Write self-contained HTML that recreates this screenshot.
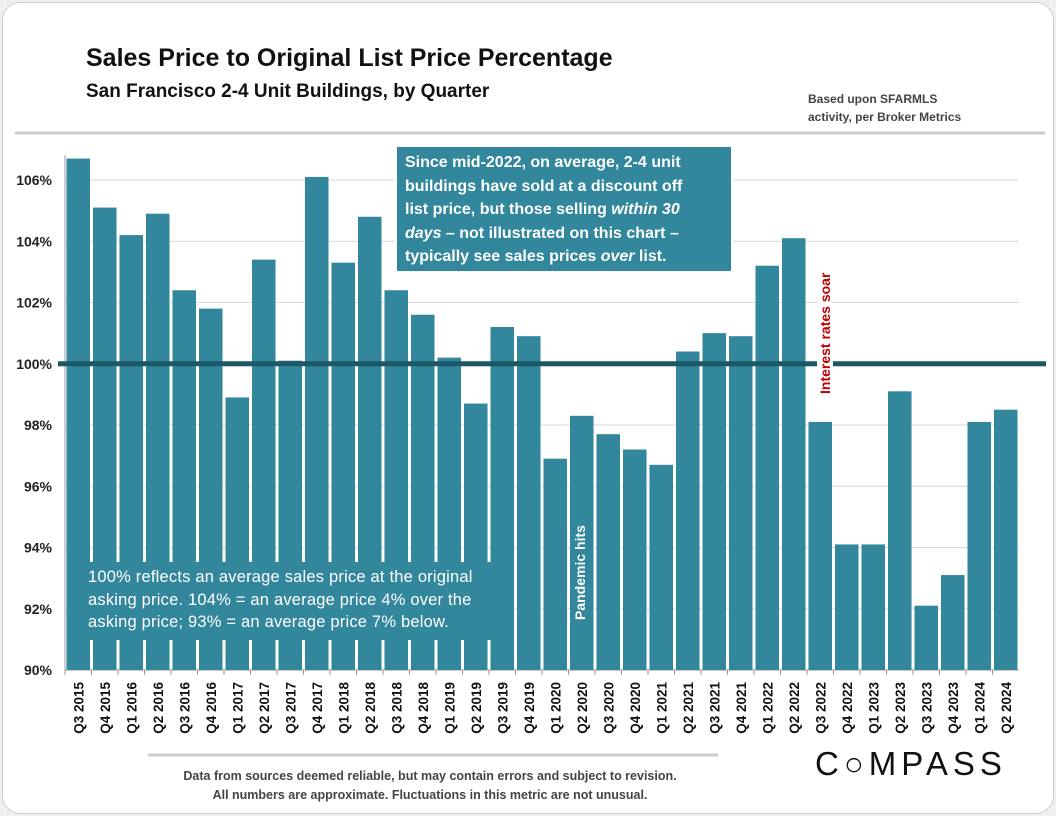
<!DOCTYPE html>
<html><head><meta charset="utf-8"><style>
body{margin:0;background:#f0f0f0;font-family:"Liberation Sans",sans-serif;}
#card{position:absolute;left:2px;top:2px;width:1050px;height:810px;background:#fff;border:1px solid #ccc;border-radius:18px;}
.t{position:absolute;white-space:nowrap;}
</style></head><body>
<div id="card"></div>
<div class="t" style="left:86px;top:44px;font-size:25px;font-weight:bold;color:#111;">Sales Price to Original List Price Percentage</div>
<div class="t" style="left:86px;top:81px;font-size:19px;font-weight:bold;color:#111;">San Francisco 2-4 Unit Buildings, by Quarter</div>
<div class="t" style="left:808px;top:90px;font-size:12px;font-weight:bold;color:#444;line-height:18px;">Based upon SFARMLS<br>activity, per Broker Metrics</div>
<div class="t" style="left:150px;top:767px;width:560px;text-align:center;font-size:12.5px;font-weight:bold;color:#444;line-height:19px;">Data from sources deemed reliable, but may contain errors and subject to revision.<br>All numbers are approximate. Fluctuations in this metric are not unusual.</div>
<div class="t" style="left:815px;top:745px;font-size:33px;letter-spacing:5px;color:#111;">C&#9675;MPASS</div>
<svg id="chart" width="1056" height="816" style="position:absolute;left:0;top:0"></svg>
<script>
const categories=["Q3 2015","Q4 2015","Q1 2016","Q2 2016","Q3 2016","Q4 2016","Q1 2017","Q2 2017","Q3 2017","Q4 2017","Q1 2018","Q2 2018","Q3 2018","Q4 2018","Q1 2019","Q2 2019","Q3 2019","Q4 2019","Q1 2020","Q2 2020","Q3 2020","Q4 2020","Q1 2021","Q2 2021","Q3 2021","Q4 2021","Q1 2022","Q2 2022","Q3 2022","Q4 2022","Q1 2023","Q2 2023","Q3 2023","Q4 2023","Q1 2024","Q2 2024"];
const values=[106.7,105.1,104.2,104.9,102.4,101.8,98.9,103.4,100.1,106.1,103.3,104.8,102.4,101.6,100.2,98.7,101.2,100.9,96.9,98.3,97.7,97.2,96.7,100.4,101.0,100.9,103.2,104.1,98.1,94.1,94.1,99.1,92.1,93.1,98.1,98.5];
const yTicks=[90,92,94,96,98,100,102,104,106];
const svg=document.getElementById('chart');const NS='http://www.w3.org/2000/svg';
const L=65,R=1019,y0=670,pp=30.625;
const yS=v=>y0-(v-90)*pp;const bw=(R-L)/categories.length;const xS=i=>L+i*bw;
function mk(t,a,p){const e=document.createElementNS(NS,t);for(const k in a)e.setAttribute(k,a[k]);(p||svg).appendChild(e);return e;}
mk('line',{x1:15,x2:1045,y1:133,y2:133,stroke:'#ccc','stroke-width':3});
mk('line',{x1:148,x2:718,y1:755,y2:755,stroke:'#ccc','stroke-width':3});
yTicks.forEach(v=>{const g=mk('line',{x1:L,x2:R,y1:yS(v),y2:yS(v),stroke:'#d9d9d9','stroke-width':1});

const t=mk('text',{x:52,y:yS(v)+5,'text-anchor':'end','font-size':14,'font-weight':'bold',fill:'#222'});t.textContent=v+'%';
});
mk('line',{x1:L,x2:L,y1:155,y2:675,stroke:'#999'});
mk('line',{x1:L,x2:R,y1:y0,y2:y0,stroke:'#999'});
values.forEach((v,i)=>{const r=mk('rect',{x:xS(i)+1.5,y:yS(v),width:bw-3,height:y0-yS(v),fill:'#32879d'});

const cx=xS(i)+bw/2+5;const t=mk('text',{x:cx,y:682,transform:`rotate(-90 ${cx} 682)`,'text-anchor':'end','font-size':13.5,'font-weight':'bold',fill:'#111'});t.textContent=categories[i];

mk('line',{x1:xS(i),x2:xS(i),y1:y0,y2:y0+5,stroke:'#999'});});
const ref=mk('line',{x1:58,x2:1046,y1:yS(100),y2:yS(100),stroke:'#1c5766','stroke-width':5});

</script>
<div class="t" style="left:395px;top:145px;width:318px;height:116px;background:#32879d;border:2px solid #fff;padding:4px 8px;color:#fff;font-size:16px;font-weight:bold;line-height:23.5px;">Since mid-2022, on average, 2-4 unit<br>buildings have sold at a discount off<br>list price, but those selling <i>within 30</i><br><i>days</i> – not illustrated on this chart –<br>typically see sales prices <i>over</i> list.</div>
<div class="t" style="left:80px;top:562px;width:418px;height:70px;background:#32879d;padding:4px 8px;color:#fff;font-size:16.5px;line-height:22.5px;letter-spacing:0.2px;">100% reflects an average sales price at the original<br>asking price. 104% = an average price 4% over the<br>asking price; 93% = an average price 7% below.</div>
<div class="t" style="left:572px;top:624px;transform-origin:0 0;transform:rotate(-90deg);color:#fff;font-size:14px;font-weight:bold;background:#32879d;padding:0 4px;">Pandemic hits</div>
<div class="t" style="left:817px;top:398px;transform-origin:0 0;transform:rotate(-90deg);color:#c00000;font-size:14px;font-weight:bold;background:#fff;padding:0 4px;">Interest rates soar</div>
</body></html>
